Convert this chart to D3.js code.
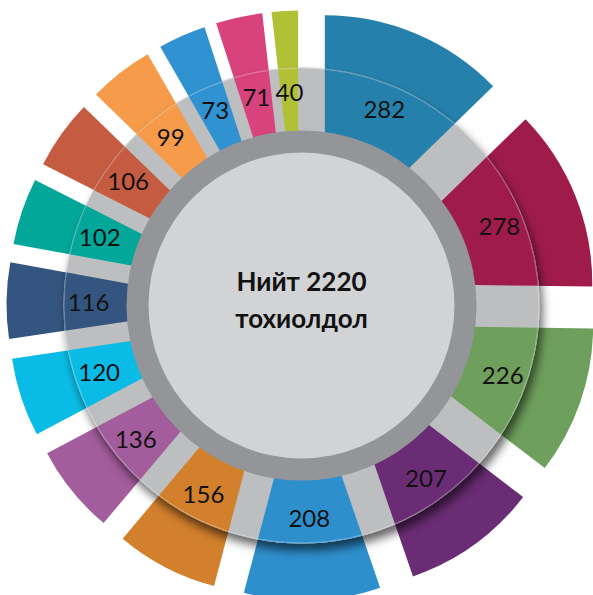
<!DOCTYPE html>
<html>
<head>
<meta charset="utf-8">
<script src="https://cdn.jsdelivr.net/npm/d3@7"></script>
<style>
  html, body { margin: 0; padding: 0; background: #ffffff; }
  svg { display: block; }
</style>
</head>
<body>
<svg id="chart" width="593" height="595"></svg>
<script>
// ---- data ----
const values = [282, 278, 226, 207, 208, 156, 136, 120, 116, 102, 106, 99, 73, 71, 40];
const colors = ["#2581ac", "#9e1b4a", "#6e9f5c", "#6a2c74", "#2e8fcd", "#d2802b", "#a35c9c",
                "#0abce5", "#34557f", "#03a79a", "#c55c41", "#f59b49", "#3092d1", "#d8427d", "#b1c135"];
const centerLines = ["Нийт 2220", "тохиолдол"];

// ---- layout ----
const W = 593, H = 595;
const cx = 301.5, cy = 305.5;
const R = 235;          // wedge radius (from its own apex)
const explode = 60;     // offset of each wedge along its bisector
const rGray = 238;      // light grey disc
const rDark = 175;      // dark ring outer
const rInner = 153;     // inner circle

const svg = d3.select("#chart");
const defs = svg.append("defs");

const filt = defs.append("filter").attr("id", "shadow")
  .attr("x", "-20%").attr("y", "-20%").attr("width", "140%").attr("height", "140%");
filt.append("feDropShadow").attr("dx", 3).attr("dy", 7).attr("stdDeviation", 5)
  .attr("flood-color", "#000").attr("flood-opacity", 0.6);

defs.append("clipPath").attr("id", "discClip")
  .append("circle").attr("cx", 0).attr("cy", 0).attr("r", rGray);

const pie = d3.pie().sort(null).value(d => d)(values);
const arc = d3.arc().innerRadius(0).outerRadius(R);
const mid = d => (d.startAngle + d.endAngle) / 2;
const shift = d => [explode * Math.sin(mid(d)), -explode * Math.cos(mid(d))];

const root = svg.append("g").attr("transform", `translate(${cx},${cy})`);

function drawWedges(g) {
  g.selectAll("path").data(pie).join("path")
    .attr("transform", d => `translate(${shift(d)[0]},${shift(d)[1]})`)
    .attr("d", arc)
    .attr("fill", (d, i) => colors[i]);
}

// outer (full) wedges
drawWedges(root.append("g"));

// grey disc with shadow
root.append("circle").attr("r", rGray).attr("fill", "#bdbec0").attr("filter", "url(#shadow)");

// wedges clipped to the disc
drawWedges(root.append("g").attr("clip-path", "url(#discClip)"));

// faint edge line
root.append("circle").attr("r", rGray - 0.5).attr("fill", "none")
  .attr("stroke", "#ffffff").attr("stroke-opacity", 0.3).attr("stroke-width", 1);

// dark ring and inner circle
root.append("circle").attr("r", rDark).attr("fill", "#939598");
root.append("circle").attr("r", rInner).attr("fill", "#d1d3d5");

// value labels
const rLab = 213;
root.append("g").selectAll("text").data(pie).join("text")
  .attr("x", d => rLab * Math.sin(mid(d)))
  .attr("y", d => -rLab * Math.cos(mid(d)))
  .attr("dy", "0.36em")
  .attr("text-anchor", "middle")
  .attr("font-family", "Lato, 'Noto Sans', sans-serif")
  .attr("font-size", 24)
  .attr("fill", "#111")
  .text(d => d.value);

// centre text
root.append("g").selectAll("text").data(centerLines).join("text")
  .attr("x", 0)
  .attr("y", (d, i) => -14.5 + i * 37)
  .attr("text-anchor", "middle")
  .attr("font-family", "Lato, 'Noto Sans', sans-serif")
  .attr("font-weight", "bold")
  .attr("font-size", 26)
  .attr("fill", "#111")
  .text(d => d);
</script>
</body>
</html>
